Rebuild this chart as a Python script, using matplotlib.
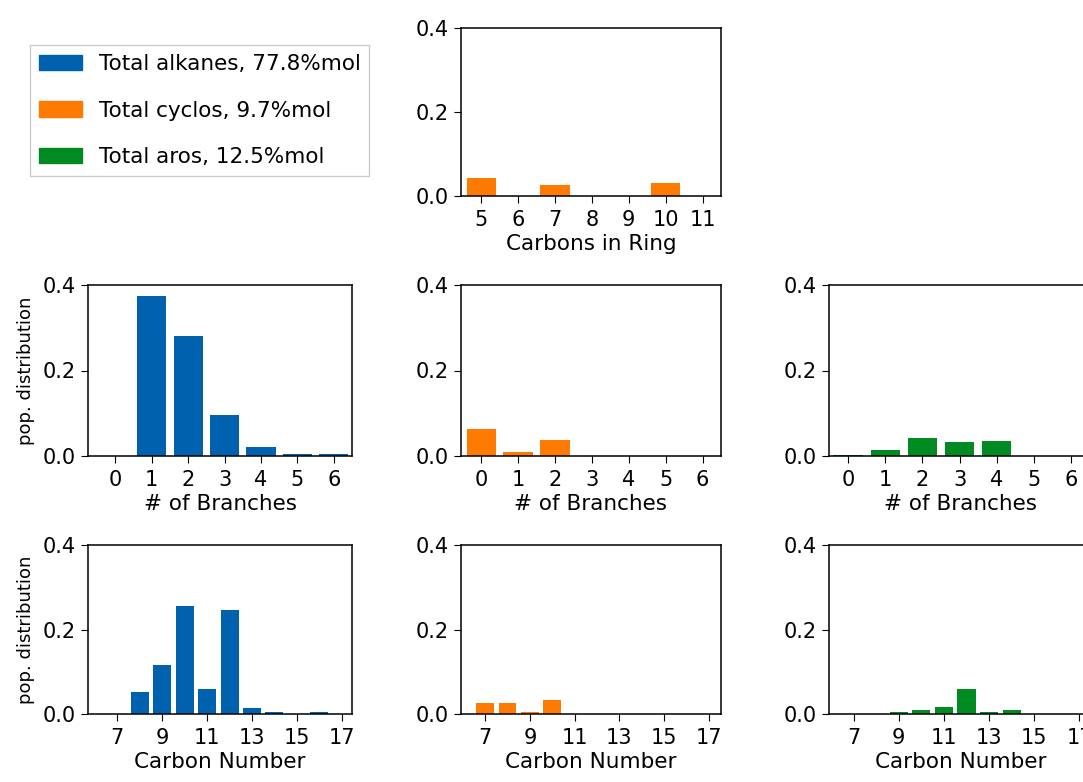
import matplotlib
matplotlib.use("Agg")
import matplotlib.pyplot as plt
from matplotlib.patches import Patch

# colours
c_alk = '#0061ae'
c_cyc = '#ff7a00'
c_aro = '#008a22'

legend_labels = ['Total alkanes, 77.8%mol', 'Total cyclos, 9.7%mol', 'Total aros, 12.5%mol']

# carbons in ring (cyclos)
ring_c = [5, 6, 7, 8, 9, 10, 11]
ring_cyc = [0.043, 0.0, 0.027, 0.0, 0.0, 0.032, 0.0]

# number of branches
branches = [0, 1, 2, 3, 4, 5, 6]
br_alk = [0.0, 0.375, 0.280, 0.095, 0.022, 0.004, 0.004]
br_cyc = [0.063, 0.010, 0.037, 0.0, 0.0, 0.0, 0.0]
br_aro = [0.003, 0.015, 0.042, 0.032, 0.035, 0.0, 0.0]

# carbon number
carbons = [7, 8, 9, 10, 11, 12, 13, 14, 15, 16, 17]
cn_alk = [0.0, 0.053, 0.117, 0.255, 0.058, 0.245, 0.015, 0.004, 0.0, 0.004, 0.0]
cn_cyc = [0.027, 0.027, 0.004, 0.032, 0.0, 0.0, 0.0, 0.0, 0.0, 0.0, 0.0]
cn_aro = [0.0, 0.0, 0.004, 0.010, 0.016, 0.058, 0.004, 0.010, 0.0, 0.0, 0.0]

W, H = 1083, 782
fig = plt.figure(figsize=(W / 100, H / 100), dpi=100)


def make_ax(left, top, right, bottom):
    return fig.add_axes([left / W, 1 - bottom / H, (right - left) / W, (bottom - top) / H])


def style(ax, xticks, xlim, xlabel, ylabel=None):
    ax.set_ylim(0, 0.4)
    ax.set_yticks([0.0, 0.2, 0.4])
    ax.set_xticks(xticks)
    ax.set_xlim(*xlim)
    ax.tick_params(labelsize=15, length=5)
    ax.tick_params(axis='x', pad=5)
    ax.set_xlabel(xlabel, fontsize=15.5, labelpad=3)
    if ylabel:
        ax.set_ylabel(ylabel, fontsize=13, labelpad=6)
    for s in ax.spines.values():
        s.set_linewidth(1.1)


cols = [(88, 352), (461, 721), (829, 1093)]
rows = [(28, 196), (285, 456), (545, 714)]

# top row: carbons in ring
ax = make_ax(cols[1][0], rows[0][0], cols[1][1], rows[0][1])
ax.bar(ring_c, ring_cyc, color=c_cyc)
style(ax, ring_c, (4.45, 11.5), 'Carbons in Ring')

# middle row: branches
br_sets = [(br_alk, c_alk, (-0.75, 6.5)), (br_cyc, c_cyc, (-0.55, 6.5)), (br_aro, c_aro, (-0.52, 6.6))]
for i, (vals, col, xl) in enumerate(br_sets):
    ax = make_ax(cols[i][0], rows[1][0], cols[i][1], rows[1][1])
    ax.bar(branches, vals, color=col)
    style(ax, branches, xl, '# of Branches', 'pop. distribution' if i == 0 else None)

# bottom row: carbon number
cn_sets = [(cn_alk, c_alk, (5.7, 17.45)), (cn_cyc, c_cyc, (5.92, 17.55)), (cn_aro, c_aro, (5.91, 17.6))]
for i, (vals, col, xl) in enumerate(cn_sets):
    ax = make_ax(cols[i][0], rows[2][0], cols[i][1], rows[2][1])
    ax.bar(carbons, vals, color=col)
    style(ax, carbons[::2], xl, 'Carbon Number', 'pop. distribution' if i == 0 else None)

handles = [Patch(color=c) for c in (c_alk, c_cyc, c_aro)]
fig.legend(handles, legend_labels, loc='upper left', bbox_to_anchor=(30 / W, 1 - 45 / H),
           bbox_transform=fig.transFigure, borderaxespad=0, fontsize=15.5,
           labelspacing=1.25, handlelength=2.0, handletextpad=0.8, borderpad=0.4,
           fancybox=False, framealpha=1, edgecolor='#cccccc')

fig.savefig('out.png', dpi=100)
